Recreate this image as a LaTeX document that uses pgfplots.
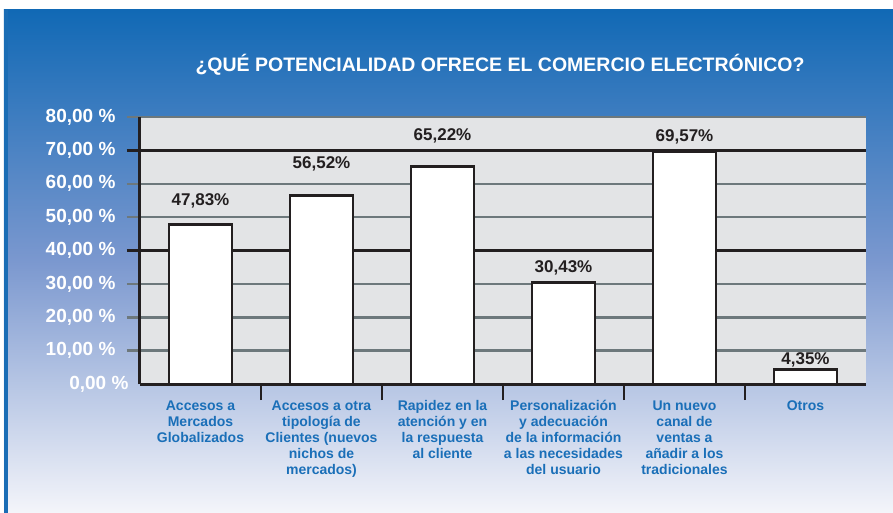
\documentclass[border=0pt]{standalone}
\usepackage{pgfplots}
\pgfplotsset{compat=1.18}
\usepackage{pgfplotstable}
\usetikzlibrary{calc}
\usepackage{fontspec}
\setmainfont{Liberation Sans}
\definecolor{bgtop}{HTML}{1169B5}
\definecolor{bgmid}{HTML}{7B98CF}
\definecolor{bgbot}{HTML}{F4F5FA}
\definecolor{plotgray}{HTML}{E3E4E6}
\definecolor{gridgray}{HTML}{6D787C}
\definecolor{inkblack}{HTML}{231F20}
\definecolor{labblue}{HTML}{1A6FB8}
\definecolor{edgeblue}{HTML}{1A6DB5}
\pgfdeclarelayer{bg}
\pgfsetlayers{bg,main}

\pgfplotstableread{
x y off
0 47.83 23
1 56.52 31
2 65.22 30
3 30.43 15
4 69.57 15
5 4.35 10
}\datatable

\begin{document}
\begin{tikzpicture}
\begin{axis}[
  scale only axis, width=726pt, height=267pt,
  xmin=-0.5, xmax=5.5, ymin=0, ymax=80,
  clip=false,
  axis lines=left,
  axis line style={-, inkblack, line width=3pt},
  axis background/.style={fill=plotgray},
  tick align=outside,
  major tick length=13pt,
  ytick={10,20,30,40,50,60,70,80},
  extra y ticks={0},
  extra y tick style={major tick length=0pt, grid=none},
  ymajorgrids,
  major grid style={gridgray, line width=2.5pt},
  y tick style={gridgray, line width=2.5pt},
  /pgf/number format/assume math mode=true,
  yticklabel={\pgfmathprintnumber[fixed,fixed zerofill,precision=2,use comma]{\tick}\ \%},
  yticklabel style={text=white, font=\bfseries\fontsize{19}{21}\selectfont, xshift=-8pt},
  xtick={0,1,2,3,4,5},
  xticklabels={{Accesos a\\Mercados\\Globalizados},{Accesos a otra\\tipología de\\Clientes (nuevos\\nichos de\\mercados)},{Rapidez en la\\atención y en\\la respuesta\\al cliente},{Personalización\\y adecuación\\de la información\\a las necesidades\\del usuario},{Un nuevo\\canal de\\ventas a\\añadir a los\\tradicionales},{Otros}},
  xticklabel style={align=center, text=labblue, font=\bfseries\fontsize{14}{16}\selectfont, anchor=north},
  x tick style={draw=none},
  extra x ticks={0.5,1.5,2.5,3.5,4.5},
  extra x tick labels={,,,,},
  extra x tick style={major tick length=16pt, x tick style={draw=inkblack, line width=2.5pt}},
]
\coordinate (O) at (axis cs:-0.5,0);
\draw[inkblack, line width=2.5pt] ([xshift=-13pt]axis cs:-0.5,40) -- (axis cs:5.5,40);
\draw[inkblack, line width=2.5pt] ([xshift=-13pt]axis cs:-0.5,70) -- (axis cs:5.5,70);
\addplot[ybar, fill=white, draw=inkblack, line width=2.5pt, bar width=63pt,
  visualization depends on={\thisrow{off}\as\myoff},
  nodes near coords={\pgfmathprintnumber[fixed,fixed zerofill,precision=2,use comma,assume math mode=true]{\pgfplotspointmeta}\%},
  every node near coord/.append style={anchor=center, yshift=\myoff pt, text=inkblack, font=\bfseries\fontsize{17}{19}\selectfont}
] table[x=x,y=y] {\datatable};
\end{axis}
\begin{pgfonlayer}{bg}
\fill[white] ($(O)+(-140pt,-129pt)$) rectangle ($(O)+(753pt,384pt)$);
\shade[top color=bgtop, bottom color=bgbot, middle color=bgmid] ($(O)+(-136pt,-129pt)$) rectangle ($(O)+(753pt,374pt)$);
\fill[edgeblue] ($(O)+(-136pt,-129pt)$) rectangle ($(O)+(-132pt,374pt)$);
\end{pgfonlayer}
\node[text=white, font=\bfseries\fontsize{19.5}{22}\selectfont] at ($(O)+(360pt,319pt)$) {¿QUÉ POTENCIALIDAD OFRECE EL COMERCIO ELECTRÓNICO?};
\pgfresetboundingbox
\path[use as bounding box] ($(O)+(-140pt,-129pt)$) rectangle ($(O)+(753pt,384pt)$);
\end{tikzpicture}
\end{document}
